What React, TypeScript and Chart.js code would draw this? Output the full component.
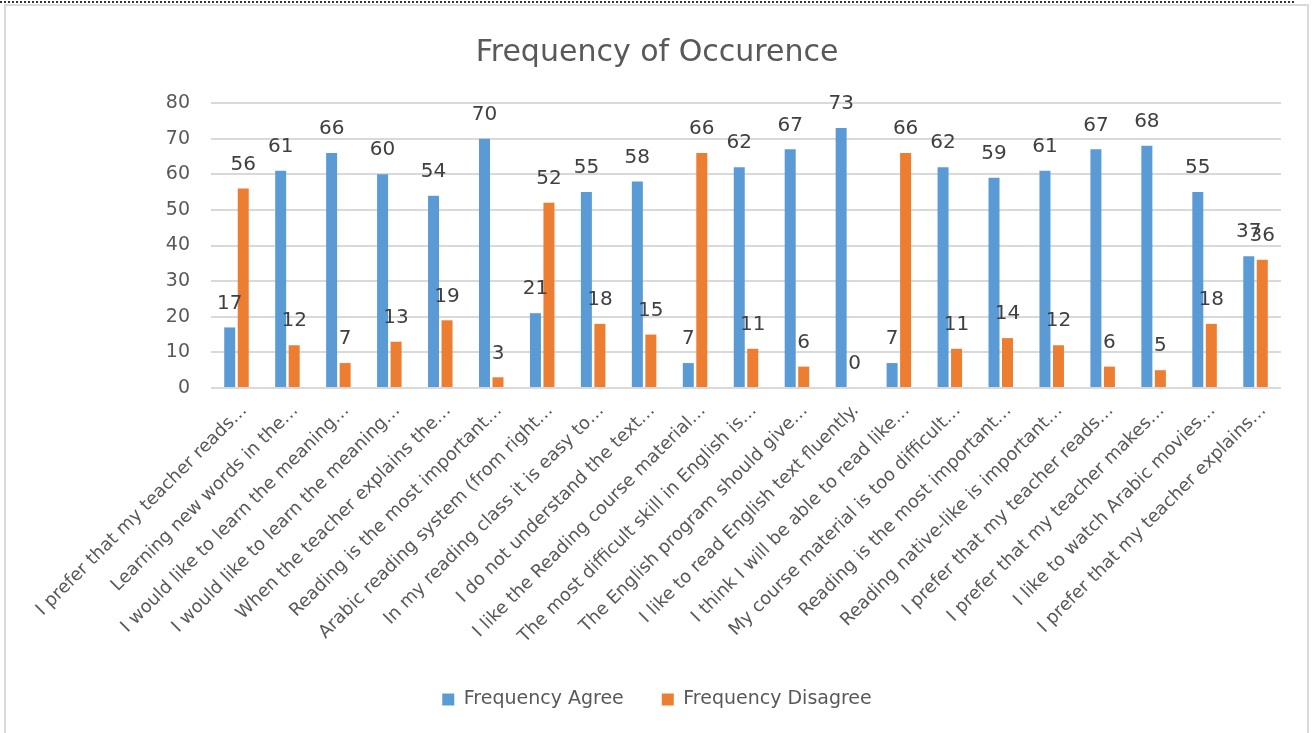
import React, { useEffect, useRef } from "react";
import { Chart, registerables } from "chart.js";

Chart.register(...registerables);

const chartTitle = "Frequency of Occurence";

const categories = [
  "I prefer that my teacher reads…",
  "Learning new words in the…",
  "I would like to learn the meaning…",
  "I would like to learn the meaning…",
  "When the teacher explains the…",
  "Reading is the most important…",
  "Arabic reading system (from right…",
  "In my reading class it is easy to…",
  "I do not understand the text…",
  "I like the Reading course material…",
  "The most difficult skill in English is…",
  "The English program should give…",
  "I like to read English text fluently.",
  "I think I will be able to read like…",
  "My course material is too difficult…",
  "Reading is the most important…",
  "Reading native-like is important…",
  "I prefer that my teacher reads…",
  "I prefer that my teacher makes…",
  "I like to watch Arabic movies…",
  "I prefer that my teacher explains…",
];

const seriesNames = ["Frequency Agree", "Frequency Disagree"];

const agreeValues = [17, 61, 66, 60, 54, 70, 21, 55, 58, 7, 62, 67, 73, 7, 62, 59, 61, 67, 68, 55, 37];
const disagreeValues = [56, 12, 7, 13, 19, 3, 52, 18, 15, 66, 11, 6, 0, 66, 11, 14, 12, 6, 5, 18, 36];

const yAxisMin = 0;
const yAxisMax = 80;
const yAxisStep = 10;

const FONT = "'DejaVu Sans', sans-serif";
const TEXT_COLOR = "#595959";
const LABEL_COLOR = "#404040";
const BLUE = "#5B9BD5";
const ORANGE = "#ED7D31";

const dataLabelPlugin = {
  id: "dataLabels",
  afterDatasetsDraw(chart: any) {
    const ctx = chart.ctx;
    ctx.save();
    ctx.font = `20px ${FONT}`;
    ctx.fillStyle = LABEL_COLOR;
    ctx.textAlign = "center";
    ctx.textBaseline = "middle";
    chart.data.datasets.forEach((ds: any, di: number) => {
      const meta = chart.getDatasetMeta(di);
      meta.data.forEach((el: any, i: number) => {
        ctx.fillText(String(ds.data[i]), el.x, el.y - 24);
      });
    });
    ctx.restore();
  },
};

export default function App() {
  const canvasRef = useRef<HTMLCanvasElement | null>(null);

  useEffect(() => {
    if (!canvasRef.current) return;
    const chart = new Chart(canvasRef.current, {
      type: "bar",
      data: {
        labels: categories,
        datasets: [
          {
            label: seriesNames[0],
            data: agreeValues,
            backgroundColor: BLUE,
            categoryPercentage: 0.53,
            barPercentage: 0.815,
          },
          {
            label: seriesNames[1],
            data: disagreeValues,
            backgroundColor: ORANGE,
            categoryPercentage: 0.53,
            barPercentage: 0.815,
          },
        ],
      },
      options: {
        responsive: false,
        animation: false,
        layout: { padding: { left: 6, right: 4, top: 6, bottom: 14 } },
        plugins: {
          title: {
            display: true,
            text: chartTitle,
            color: TEXT_COLOR,
            font: { family: FONT, size: 30, weight: "normal" },
            padding: { top: 29, bottom: 32 },
          },
          legend: {
            position: "bottom",
            labels: {
              color: TEXT_COLOR,
              font: { family: FONT, size: 19 },
              boxWidth: 12,
              boxHeight: 12,
              padding: 38,
            },
          },
          tooltip: { enabled: false },
        },
        scales: {
          x: {
            grid: { display: false },
            border: { display: false },
            ticks: {
              color: TEXT_COLOR,
              font: { family: FONT, size: 18 },
              minRotation: 45,
              maxRotation: 45,
              autoSkip: false,
              padding: 4,
              labelOffset: 8,
            },
            afterFit: (s: any) => {
              s.height = 264;
            },
          },
          y: {
            min: yAxisMin,
            max: yAxisMax,
            ticks: {
              stepSize: yAxisStep,
              color: TEXT_COLOR,
              font: { family: FONT, size: 19 },
              padding: 21,
            },
            grid: { color: "#D9D9D9", lineWidth: 2, drawTicks: false },
            border: { display: false },
            afterFit: (s: any) => {
              s.width = 205;
            },
          },
          y2: {
            position: "right",
            display: true,
            grid: { display: false },
            border: { display: false },
            ticks: { display: false },
            afterFit: (s: any) => {
              s.width = 27;
            },
          },
        },
      } as any,
      plugins: [dataLabelPlugin],
    });
    return () => chart.destroy();
  }, []);

  return (
    <div
      style={{
        position: "fixed",
        left: 0,
        top: 0,
        width: 1312,
        height: 733,
        background: "#fff",
        overflow: "hidden",
      }}
    >
      <canvas
        ref={canvasRef}
        width={1312}
        height={733}
        style={{ position: "absolute", left: 0, top: 0, width: 1312, height: 733, background: "#fff" }}
      />
      <div
        style={{
          position: "absolute",
          left: 0,
          top: 1,
          width: 1294,
          height: 0,
          borderTop: "2px dotted #333",
          pointerEvents: "none",
        }}
      />
      <div
        style={{
          position: "absolute",
          left: 4,
          top: 4,
          width: 1305,
          height: 740,
          border: "2px solid #D9D9D9",
          boxSizing: "border-box",
          pointerEvents: "none",
        }}
      />
    </div>
  );
}
